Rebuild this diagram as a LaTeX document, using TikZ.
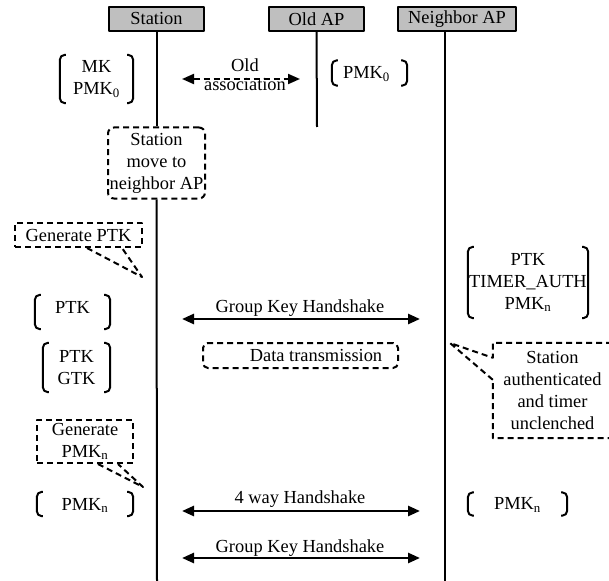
\documentclass[tikz,border=0pt]{standalone}
\usepackage{fontspec}
\setmainfont{Liberation Serif}
\usetikzlibrary{arrows.meta}

% rounded brackets round a key node
\newcommand\keybrk[1]{%
  \draw[brk] ([xshift=6pt]#1.north west) -- (#1.north west) -- (#1.south west) -- ([xshift=6pt]#1.south west);
  \draw[brk] ([xshift=-6pt]#1.north east) -- (#1.north east) -- (#1.south east) -- ([xshift=-6pt]#1.south east);}

\begin{document}
\begin{tikzpicture}[x=1pt,y=-1pt,line join=round,>={Triangle[length=12pt,width=10pt]},
    every node/.style={font=\fontsize{18.4}{22}\selectfont,inner sep=0pt,align=center},
    head/.style={draw,line width=2pt,fill=gray!50,minimum height=24pt},
    life/.style={line width=2pt},
    brk/.style={line width=2pt,rounded corners=5pt},
    dsh/.style={line width=2pt,dash pattern=on 6pt off 4pt},
    note/.style={draw,dsh},
    msg/.style={line width=2.6pt,<->}]
  \useasboundingbox (0,0) rectangle (609,580);

  % lifeline heads
  \node[head,minimum width=95pt] (station) at (156.5,19) {Station};
  \node[head,minimum width=95pt] (oldap) at (316.5,19) {Old AP};
  \node[head,minimum width=118pt] (nbr) at (457,19) {Neighbor AP};

  \node[note,rounded corners=6pt,minimum width=97pt,minimum height=71pt] (move) at (156.5,163) {Station\\move to\\neighbor AP};

  \coordinate (stbot) at (157,582);
  \coordinate (oldbot) at (317,127);
  \coordinate (nbbot) at (445,582);
  \draw[life] (station.south) -- (move.north);
  \draw[life] (move.south) -- (stbot);
  \draw[life] (oldap.south) -- (oldbot);
  \draw[life] ([xshift=-12pt]nbr.south) -- (nbbot);

  % keys
  \node[minimum width=73pt,minimum height=48pt] (mk) at (96.5,79) {MK\\PMK\textsubscript{0}};
  \node[minimum width=75pt,text height=18pt,text depth=7pt] (pmkold) at (369.5,73) {PMK\textsubscript{0}\hspace*{6pt}};
  \node[minimum width=75pt,text height=18pt,text depth=16pt] (ptk) at (72.5,312) {PTK};
  \node[minimum width=67pt,minimum height=49pt] (ptkgtk) at (76.5,367.5) {PTK\\GTK};
  \node[minimum width=120pt,minimum height=71pt] (ptkauth) at (528,282.5) {PTK\\TIMER\_AUTH\\PMK\textsubscript{n}};
  \node[minimum width=96pt,text height=18pt,text depth=6pt] (pmkst) at (85,504) {PMK\textsubscript{n}};
  \node[minimum width=99pt,text height=17pt,text depth=6pt] (pmknb) at (517.5,504) {PMK\textsubscript{n}};
  \foreach \k in {mk,pmkold,ptk,ptkgtk,ptkauth,pmkst,pmknb} {
      \keybrk{\k}
    }

  % notes with pointers
  \node[note,minimum width=127pt,minimum height=24pt] (genptk) at (78.5,235) {Generate PTK};
  \coordinate (genptktip) at (142,277);
  \draw[dsh] ([xshift=8.5pt]genptk.south) -- (genptktip) -- ([xshift=43.5pt]genptk.south);

  \node[note,minimum width=96pt,minimum height=43pt] (genpmk) at (85,441.5) {Generate\\PMK\textsubscript{n}};
  \coordinate (genpmktip) at (143,487);
  \draw[dsh] ([xshift=13pt]genpmk.south) -- (genpmktip) -- ([xshift=33pt]genpmk.south);

  \node[minimum width=119pt,minimum height=95pt] (auth) at (552.5,390.5) {Station\\authenticated\\and timer\\unclenched};
  \coordinate (authtip) at (450,343);
  \draw[dsh] ([yshift=-37pt]auth.north west) -- (authtip) -- ([yshift=-15pt]auth.north west)
    -- (auth.north west) -- (auth.north east) -- (auth.south east) -- (auth.south west) -- cycle;

  \node[note,rounded corners=5pt,minimum width=195pt,minimum height=25pt] (data) at (300.5,355.5) {\hspace*{31pt}Data transmission};

  % messages
  \coordinate (olda) at (182,79);
  \coordinate (oldb) at (300,79);
  \draw[dsh,<->] (olda) -- (oldb);
  \node[anchor=base] (oldlbl) at (245,72) {Old};
  \node[anchor=base] (asslbl) at (245,91) {association};

  \coordinate (gka) at (182,319);
  \coordinate (gkb) at (420,319);
  \draw[msg] (gka) -- (gkb);
  \node[anchor=base] (gklbl) at (300,312) {Group Key Handshake};

  \coordinate (fwa) at (182,511);
  \coordinate (fwb) at (420,511);
  \draw[msg] (fwa) -- (fwb);
  \node[anchor=base] (fwlbl) at (300,503) {4 way Handshake};

  \coordinate (gkc) at (182,558);
  \coordinate (gkd) at (420,558);
  \draw[msg] (gkc) -- (gkd);
  \node[anchor=base] (gklbl2) at (300,552) {Group Key Handshake};
\end{tikzpicture}
\end{document}
